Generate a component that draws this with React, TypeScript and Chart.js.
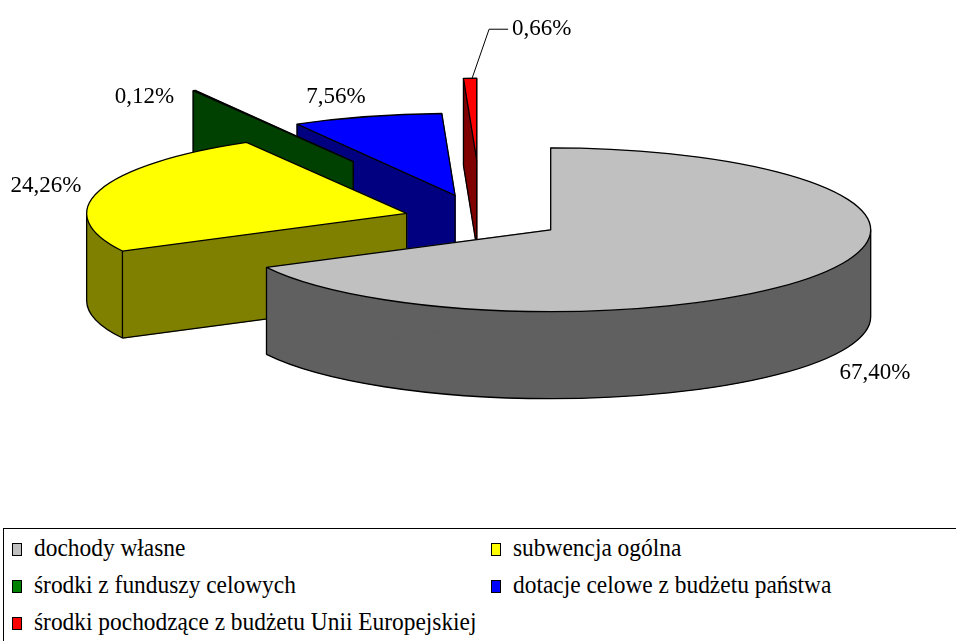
import React, { useEffect, useRef } from 'react';
import { Chart, registerables } from 'chart.js';

Chart.register(...registerables);

// ---- data ----
const categories = [
  'dochody własne',
  'subwencja ogólna',
  'środki z funduszy celowych',
  'dotacje celowe z budżetu państwa',
  'środki pochodzące z budżetu Unii Europejskiej',
];
const shares = [67.4, 24.26, 0.12, 7.56, 0.66];

// ---- styles ----
const topColors = ['#C0C0C0', '#FFFF00', '#008000', '#0000FF', '#FF0000'];
const sideColors = ['#606060', '#808000', '#004000', '#000080', '#800000'];
const explode = [81, 78, 258, 96, 230];
const labelOffsets = [
  [51, 101],
  [-53.5, -4.4],
  [-49.8, 6.6],
  [-31, -19.5],
  [42, -49],
];
const leaderLines = [false, false, false, false, true];
const drawOrder = [4, 3, 2, 1, 0];
const TILT = 0.256;
const DEPTH = 87;

const fmt = (v: number) => v.toFixed(2).replace('.', ',') + '%';

const pie3d = {
  id: 'pie3d',
  beforeDatasetsDraw(chart: any) {
    const meta = chart.getDatasetMeta(0);
    const ctx: CanvasRenderingContext2D = chart.ctx;
    const k = TILT;
    const D = DEPTH;
    const info = meta.data.map((arc: any, i: number) => {
      const R = arc.outerRadius;
      const s = arc.startAngle;
      const e = arc.endAngle;
      const m = (s + e) / 2;
      const X = arc.x + Math.cos(m) * explode[i];
      const Y = arc.y + Math.sin(m) * explode[i] * k;
      return { arc, i, R, ry: R * k, s, e, m, X, Y };
    });

    const fillArc = (it: any, dy: number, color: string) => {
      const fake = Object.create(it.arc);
      fake.options = Object.assign({}, it.arc.options, {
        backgroundColor: color,
        borderWidth: 0,
        offset: 0,
        spacing: 0,
      });
      ctx.save();
      ctx.translate(it.X, it.Y + dy);
      ctx.scale(1, k);
      ctx.translate(-it.arc.x, -it.arc.y);
      fake.draw(ctx);
      ctx.restore();
    };

    const fillSide = (it: any, color: string) => {
      const pt = (a: number, d: number) => [it.X + it.R * Math.cos(a), it.Y + d + it.ry * Math.sin(a)];
      fillArc(it, D, color);
      ctx.save();
      ctx.fillStyle = color;
      ctx.strokeStyle = color;
      ctx.lineWidth = 0.8;
      // sweep of the outer arc, split where x is monotonic
      const brk: number[] = [it.s];
      for (let n = -2; n <= 3; n++) {
        const a = n * Math.PI;
        if (a > it.s && a < it.e) brk.push(a);
      }
      brk.push(it.e);
      for (let j = 0; j < brk.length - 1; j++) {
        const a0 = brk[j];
        const a1 = brk[j + 1];
        const p0 = pt(a0, 0);
        const p1 = pt(a1, D);
        ctx.beginPath();
        ctx.moveTo(p0[0], p0[1]);
        ctx.ellipse(it.X, it.Y, it.R, it.ry, 0, a0, a1);
        ctx.lineTo(p1[0], p1[1]);
        ctx.ellipse(it.X, it.Y + D, it.R, it.ry, 0, a1, a0, true);
        ctx.closePath();
        ctx.fill();
      }
      // sweeps of the radial edges
      for (const a of [it.s, it.e]) {
        const p0 = pt(a, 0);
        ctx.beginPath();
        ctx.moveTo(it.X, it.Y);
        ctx.lineTo(p0[0], p0[1]);
        ctx.lineTo(p0[0], p0[1] + D);
        ctx.lineTo(it.X, it.Y + D);
        ctx.closePath();
        ctx.fill();
        ctx.stroke();
      }
      ctx.restore();
    };

    for (const idx of drawOrder) {
      const it = info[idx];
      if (!it) continue;
      fillSide(it, sideColors[idx]);

      const pt = (a: number, d: number) => [it.X + it.R * Math.cos(a), it.Y + d + it.ry * Math.sin(a)];
      ctx.save();
      ctx.strokeStyle = '#000';
      ctx.lineWidth = 1.3;
      ctx.lineJoin = 'round';
      ctx.beginPath();
      for (let n = -1; n <= 1; n++) {
        const a0 = Math.max(it.s, 2 * Math.PI * n);
        const a1 = Math.min(it.e, 2 * Math.PI * n + Math.PI);
        if (a1 > a0) {
          const p = pt(a0, D);
          ctx.moveTo(p[0], p[1]);
          ctx.ellipse(it.X, it.Y + D, it.R, it.ry, 0, a0, a1);
        }
      }
      const startFace = Math.cos(it.s) < -1e-9;
      const endFace = Math.cos(it.e) > 1e-9;
      const vline = (x: number, y: number) => {
        ctx.moveTo(x, y);
        ctx.lineTo(x, y + D);
      };
      if (startFace) {
        const p = pt(it.s, D);
        ctx.moveTo(it.X, it.Y + D);
        ctx.lineTo(p[0], p[1]);
      }
      if (endFace) {
        const p = pt(it.e, D);
        ctx.moveTo(it.X, it.Y + D);
        ctx.lineTo(p[0], p[1]);
      }
      if (startFace || endFace) vline(it.X, it.Y);
      if (startFace || Math.sin(it.s) > 1e-9) {
        const p = pt(it.s, 0);
        vline(p[0], p[1]);
      }
      if (endFace || Math.sin(it.e) > 1e-9) {
        const p = pt(it.e, 0);
        vline(p[0], p[1]);
      }
      for (let n = -2; n <= 3; n++) {
        const a = n * Math.PI;
        if (a > it.s && a < it.e) {
          const p = pt(a, 0);
          vline(p[0], p[1]);
        }
      }
      ctx.stroke();

      fillArc(it, 0, topColors[idx]);
      ctx.beginPath();
      ctx.moveTo(it.X, it.Y);
      ctx.ellipse(it.X, it.Y, it.R, it.ry, 0, it.s, it.e);
      ctx.closePath();
      ctx.stroke();
      ctx.restore();
    }

    // labels
    ctx.save();
    ctx.font = '23px "Liberation Serif", "Times New Roman", serif';
    ctx.fillStyle = '#000';
    ctx.strokeStyle = '#000';
    ctx.lineWidth = 1;
    ctx.textBaseline = 'middle';
    info.forEach((it: any, i: number) => {
      const ox = it.X + it.R * Math.cos(it.m);
      const oy = it.Y + it.ry * Math.sin(it.m);
      const lx = ox + labelOffsets[i][0];
      const ly = oy + labelOffsets[i][1];
      if (leaderLines[i]) {
        ctx.beginPath();
        ctx.moveTo(ox + 2, oy);
        ctx.lineTo(lx - 23, ly);
        ctx.lineTo(lx - 4, ly);
        ctx.stroke();
        ctx.textAlign = 'left';
      } else {
        ctx.textAlign = 'center';
      }
      ctx.fillText(fmt(shares[i]), lx, ly);
    });
    ctx.restore();
    return false;
  },
};

export default function App() {
  const ref = useRef<HTMLCanvasElement | null>(null);
  useEffect(() => {
    if (!ref.current) return;
    const chart = new Chart(ref.current, {
      type: 'pie',
      data: {
        labels: categories,
        datasets: [
          {
            data: shares,
            backgroundColor: topColors,
            borderColor: '#000',
            borderWidth: 1,
            offset: 0,
          },
        ],
      },
      options: {
        responsive: false,
        animation: false,
        events: [],
        radius: 320,
        layout: { padding: { left: 7, right: 0, top: 0, bottom: 82 } },
        plugins: {
          legend: { display: false },
          tooltip: { enabled: false },
        },
      } as any,
      plugins: [pie3d as any],
    });
    return () => chart.destroy();
  }, []);

  return (
    <div
      style={{
        position: 'fixed',
        left: 0,
        top: 0,
        width: 956,
        height: 641,
        overflow: 'hidden',
        background: '#fff',
      }}
    >
      <canvas ref={ref} width={956} height={520} style={{ position: 'absolute', left: 0, top: 0 }} />
      <div
        style={{
          position: 'absolute',
          left: 3,
          top: 528,
          width: 1000,
          height: 200,
          border: '1px solid #000',
          boxSizing: 'border-box',
        }}
      />
      {categories.map((c, i) => {
        const col = i % 2;
        const row = Math.floor(i / 2);
        const bx = 12 + col * 479;
        const rowTop = 529 + row * 37;
        return (
          <React.Fragment key={c}>
            <div
              style={{
                position: 'absolute',
                left: bx,
                top: rowTop + 14,
                width: 10,
                height: 13,
                boxSizing: 'border-box',
                border: '1px solid #000',
                background: topColors[i],
              }}
            />
            <div
              style={{
                position: 'absolute',
                left: bx + 22,
                top: rowTop,
                height: 37,
                lineHeight: '37px',
                fontSize: 26,
                fontFamily: '"Liberation Serif", "Times New Roman", serif',
                whiteSpace: 'nowrap',
                transform: 'scaleX(0.9)',
                transformOrigin: 'left center',
                color: '#000',
              }}
            >
              {c}
            </div>
          </React.Fragment>
        );
      })}
    </div>
  );
}
